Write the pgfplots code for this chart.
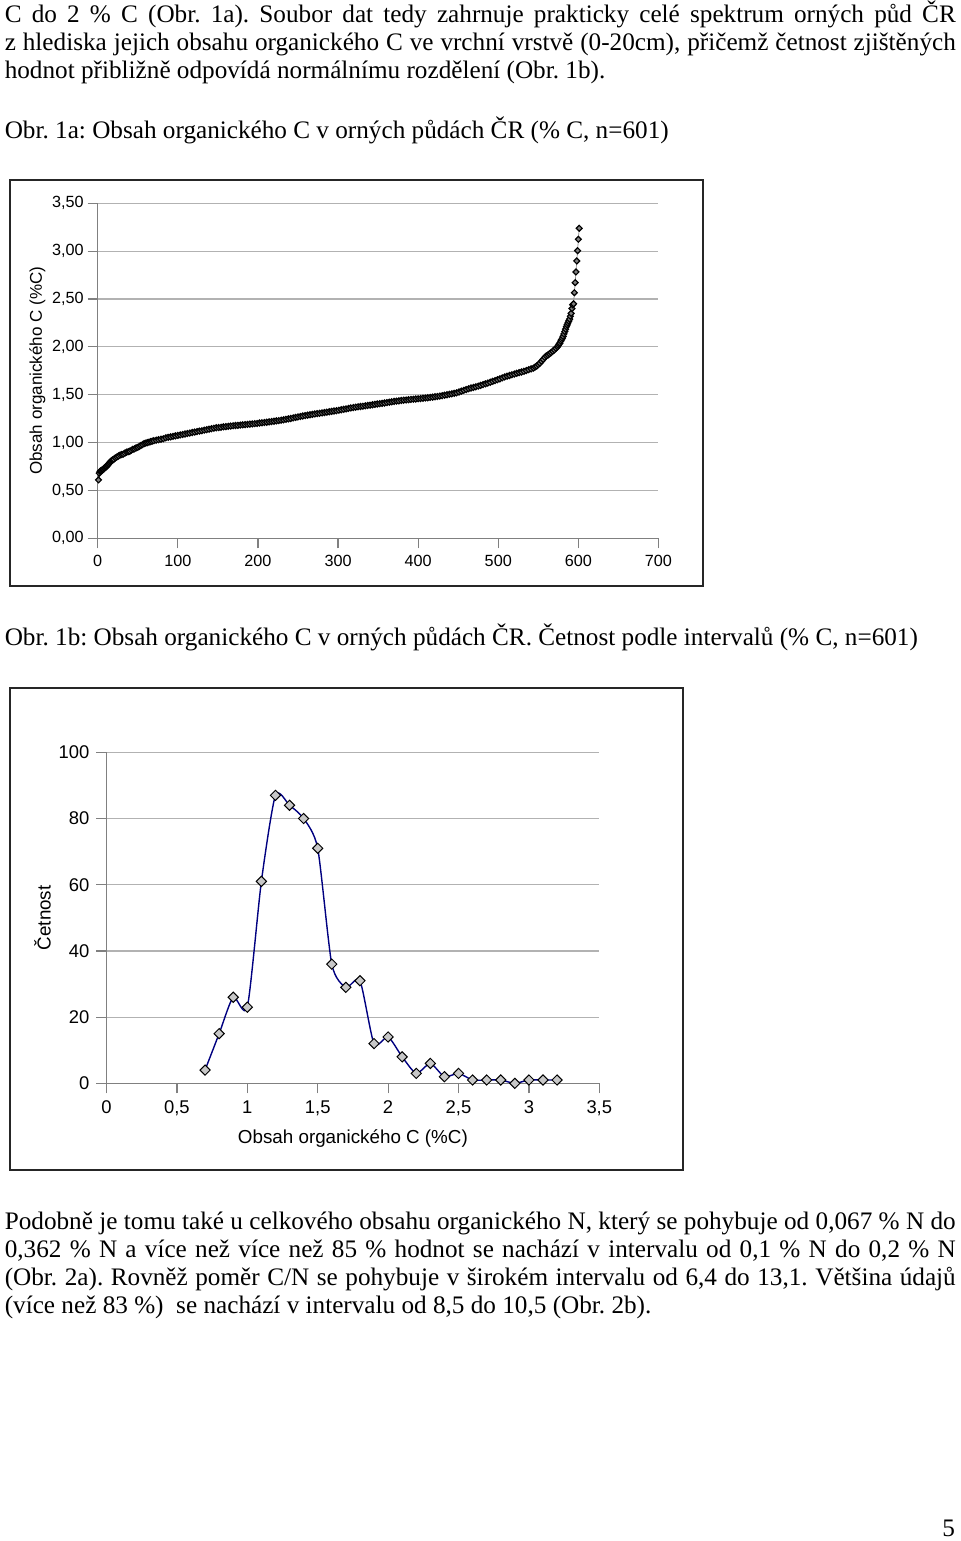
\documentclass[border=0pt]{standalone}
\usepackage{fontspec}
\setmainfont{Liberation Serif}
\newfontfamily\arial{Liberation Sans}
\usepackage{pgfplots}
\pgfplotsset{compat=1.18}
\definecolor{navyline}{RGB}{0,0,128}
\definecolor{gridgray}{RGB}{178,178,178}
\definecolor{axgray}{RGB}{128,128,128}
\definecolor{mkfill}{RGB}{200,200,200}

\pgfplotstableread{
x y
1 0.61
2 0.68
3 0.70
4 0.705
5 0.71
6 0.715
7 0.72
8 0.73
9 0.74
10 0.745
11 0.75
12 0.76
13 0.77
14 0.78
15 0.79
16 0.80
17 0.81
18 0.815
19 0.82
20 0.825
22 0.84
24 0.85
26 0.86
28 0.87
30 0.875
32 0.88
34 0.89
36 0.90
38 0.905
40 0.91
42 0.92
44 0.93
46 0.935
48 0.945
50 0.95
52 0.96
54 0.97
56 0.98
58 0.99
60 0.995
62 1.00
64 1.005
66 1.01
68 1.015
70 1.02
73 1.025
76 1.03
79 1.035
82 1.04
85 1.05
88 1.055
91 1.06
94 1.065
97 1.07
100 1.075
103 1.08
106 1.085
109 1.09
112 1.095
115 1.10
118 1.105
121 1.11
124 1.115
127 1.12
130 1.124
133 1.13
136 1.135
139 1.14
142 1.145
145 1.15
148 1.155
151 1.157
154 1.16
157 1.165
160 1.167
163 1.17
166 1.173
169 1.176
172 1.178
175 1.18
178 1.183
181 1.186
184 1.188
187 1.19
190 1.193
193 1.195
196 1.198
199 1.20
202 1.205
205 1.207
208 1.21
211 1.213
214 1.216
217 1.22
220 1.223
223 1.227
226 1.23
229 1.234
232 1.238
235 1.243
238 1.248
241 1.252
244 1.258
247 1.263
250 1.268
253 1.273
256 1.278
259 1.282
262 1.287
265 1.291
268 1.295
271 1.299
274 1.303
277 1.306
280 1.31
283 1.314
286 1.318
289 1.322
292 1.326
295 1.33
298 1.333
301 1.338
304 1.343
307 1.348
310 1.352
313 1.357
316 1.362
319 1.366
322 1.37
325 1.374
328 1.377
331 1.38
334 1.384
337 1.388
340 1.391
343 1.395
346 1.399
349 1.403
352 1.407
355 1.41
358 1.414
361 1.418
364 1.422
367 1.426
370 1.43
373 1.433
376 1.436
379 1.44
382 1.443
385 1.445
388 1.448
391 1.451
394 1.453
397 1.455
400 1.458
403 1.46
406 1.463
409 1.466
412 1.469
415 1.472
418 1.475
421 1.479
424 1.482
427 1.486
430 1.49
433 1.495
436 1.50
439 1.505
442 1.51
445 1.515
448 1.52
451 1.528
454 1.538
457 1.546
460 1.554
463 1.563
466 1.57
469 1.576
472 1.583
475 1.59
478 1.598
481 1.606
484 1.614
487 1.622
490 1.63
493 1.64
496 1.648
499 1.657
502 1.666
505 1.676
508 1.686
511 1.694
514 1.701
517 1.709
520 1.716
523 1.724
526 1.731
529 1.738
532 1.745
535 1.753
538 1.762
541 1.77
544 1.778
546 1.79
548 1.80
550 1.815
552 1.83
554 1.85
556 1.87
558 1.89
560 1.905
562 1.915
564 1.928
566 1.94
568 1.955
570 1.968
572 1.985
574 2.00
575 2.015
576 2.03
577 2.04
578 2.06
579 2.075
580 2.09
581 2.11
582 2.135
583 2.16
584 2.185
585 2.21
586 2.23
587 2.25
588 2.27
589 2.29
590 2.32
591 2.35
592 2.40
593 2.44
594 2.45
595 2.566
596 2.671
597 2.783
598 2.898
599 3.005
600 3.124
601 3.239
}\sorted

\pgfplotstableread{
x y
0.7 4
0.8 15
0.9 26
1.0 23
1.1 61
1.2 87
1.3 84
1.4 80
1.5 71
1.6 36
1.7 29
1.8 31
1.9 12
2.0 14
2.1 8
2.2 3
2.3 6
2.4 2
2.5 3
2.6 1
2.7 1
2.8 1
2.9 0
3.0 1
3.1 1
3.2 1
}\freq

\begin{document}
\frenchspacing
\begin{tikzpicture}
\useasboundingbox (0pt,0pt) rectangle (480pt,-770.5pt);

\begin{scope}[every node/.style={inner sep=0pt, anchor=base west, font=\fontsize{12.6pt}{14pt}\selectfont}]
\node at (2.2pt,-11.35pt) {\makebox[475.5pt][s]{C do 2 \% C (Obr. 1a). Soubor dat tedy zahrnuje prakticky celé spektrum orných půd ČR}};
\node at (2.2pt,-25.35pt) {\makebox[475.5pt][s]{z hlediska jejich obsahu organického C ve vrchní vrstvě (0-20cm), přičemž četnost zjištěných}};
\node at (2.2pt,-39.35pt) {hodnot přibližně odpovídá normálnímu rozdělení (Obr. 1b).};
\node at (2.2pt,-69.1pt) {Obr. 1a: Obsah organického C v orných půdách ČR (\% C, n=601)};
\node at (2.2pt,-322.9pt) {Obr. 1b: Obsah organického C v orných půdách ČR. Četnost podle intervalů (\% C, n=601)};
\node at (2.2pt,-614.65pt) {\makebox[475.5pt][s]{Podobně je tomu také u celkového obsahu organického N, který se pohybuje od 0,067 \% N do}};
\node at (2.2pt,-628.65pt) {\makebox[475.5pt][s]{0,362 \% N a více než více než 85 \% hodnot se nachází v intervalu od 0,1 \% N do 0,2 \% N}};
\node at (2.2pt,-642.65pt) {\makebox[475.5pt][s]{(Obr. 2a). Rovněž poměr C/N se pohybuje v širokém intervalu od 6,4 do 13,1. Většina údajů}};
\node at (2.2pt,-656.65pt) {(více než 83 \%)\ \ se nachází v intervalu od 8,5 do 10,5 (Obr. 2b).};
\node[anchor=base east] at (477.7pt,-768.2pt) {5};
\end{scope}

\draw[line width=0.8pt, black!85] (5pt,-90pt) rectangle (351.5pt,-293pt);
\draw[line width=0.8pt, black!85] (5pt,-344pt) rectangle (341.5pt,-585pt);

\begin{axis}[
  at={(48.85pt,-269.15pt)}, anchor=south west,
  scale only axis, width=280.4pt, height=167.5pt,
  xmin=0, xmax=700, ymin=0, ymax=3.5,
  axis x line*=bottom, axis y line*=left,
  axis line style={axgray, line width=0.6pt},
  xtick={0,100,200,300,400,500,600,700},
  ytick={0,0.5,1,1.5,2,2.5,3,3.5},
  tick align=outside, major tick length=5pt,
  tick style={axgray, line width=0.6pt},
  ymajorgrids, grid style={gridgray, line width=0.6pt},
  tick label style={font=\arial\fontsize{8.1pt}{10pt}\selectfont},
  /pgf/number format/assume math mode=true,
  yticklabel style={xshift=1.5pt, /pgf/number format/.cd, fixed, fixed zerofill, precision=2, use comma},
  xticklabel style={/pgf/number format/.cd, fixed, precision=0},
  ylabel={Obsah organického C (\%C)},
  ylabel style={font=\arial\fontsize{8.5pt}{10pt}\selectfont, at={(axis description cs:-0.1075,0.5)}, anchor=center},
  clip=false,
]
\addplot[color=gray, line width=0.3pt, mark=square*, mark size=1.05pt,
  mark options={rotate=45, fill=gray, draw=black, line width=0.6pt, solid}]
  table[x=x, y=y] {\sorted};
\end{axis}

\begin{axis}[
  at={(53.25pt,-541.65pt)}, anchor=south west,
  scale only axis, width=246.4pt, height=165.5pt,
  xmin=0, xmax=3.5, ymin=0, ymax=100,
  axis x line*=bottom, axis y line*=left,
  axis line style={axgray, line width=0.6pt},
  xtick={0,0.5,1,1.5,2,2.5,3,3.5},
  ytick={0,20,40,60,80,100},
  tick align=outside, major tick length=5pt,
  tick style={axgray, line width=0.6pt},
  ymajorgrids, grid style={gridgray, line width=0.6pt},
  tick label style={font=\arial\fontsize{9.2pt}{11pt}\selectfont},
  /pgf/number format/assume math mode=true,
  xticklabel style={/pgf/number format/.cd, use comma},
  ylabel={Četnost},
  ylabel style={font=\arial\fontsize{9.4pt}{11pt}\selectfont, at={(axis description cs:-0.130,0.5)}, anchor=center},
  xlabel={Obsah organického C (\%C)},
  xlabel style={font=\arial\fontsize{9.4pt}{11pt}\selectfont, at={(axis description cs:0.5,-0.167)}, anchor=center},
  clip=false,
]
\addplot[smooth, tension=0.4, color=navyline, line width=0.7pt, mark=square*, mark size=1.8pt,
  mark options={rotate=45, fill=mkfill, draw=black, line width=0.5pt, solid}]
  table[x=x, y=y] {\freq};
\end{axis}
\end{tikzpicture}
\end{document}
